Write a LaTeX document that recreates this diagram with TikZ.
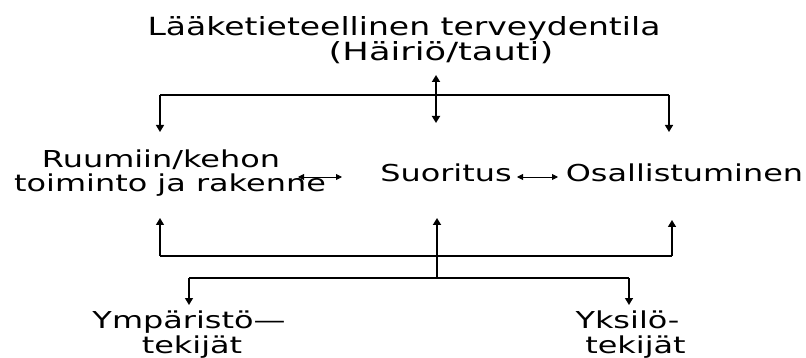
\documentclass[tikz,border=0pt]{standalone}
\usepackage{fontspec}
\setmainfont[FakeStretch=1.37]{DejaVu Sans}
\newfontfamily\titlefont[FakeStretch=1.32]{DejaVu Sans}
\newfontfamily\subtitlefont[FakeStretch=1.41]{DejaVu Sans}
\usetikzlibrary{arrows.meta}
\begin{document}
\begin{tikzpicture}[x=1pt,y=-1pt,
  conn/.style={line width=1.4pt},
  thick conn/.style={line width=1.9pt},
  tipend/.style={-{Triangle[length=7pt,width=8pt]}},
  bothtips/.style={{Triangle[length=7pt,width=8pt]}-{Triangle[length=7pt,width=8pt]}},
  smallboth/.style={line width=0.9pt,{Triangle[length=6pt,width=6pt]}-{Triangle[length=6pt,width=6pt]}},
  big/.style={anchor=base,inner sep=0pt,font=\titlefont\fontsize{25}{25}\selectfont},
  sub/.style={anchor=base,inner sep=0pt,font=\subtitlefont\fontsize{25}{25}\selectfont},
  lbl/.style={anchor=base,inner sep=0pt,font=\fontsize{23.3}{23.3}\selectfont}]
\useasboundingbox (0,0) rectangle (806,358);
% texts
\node[big] (t1) at (404,36) {Lääketieteellinen terveydentila};
\node[sub] (t2) at (441,61) {(Häiriö/tauti)};
\node[lbl] (r1) at (161,168) {Ruumiin/kehon};
\node[lbl] (r2) at (170,192) {toiminto ja rakenne};
\node[lbl] (su) at (446,182) {Suoritus};
\node[lbl] (os) at (684.5,182) {Osallistuminen};
\node[lbl] (y1) at (189,328) {Ympäristö—};
\node[lbl] (y2) at (192,353) {tekijät};
\node[lbl] (k1) at (627.5,328) {Yksilö-};
\node[lbl] (k2) at (635.5,353) {tekijät};
% coordinates
\coordinate (ctop) at (436,75);
\coordinate (cbot) at (436,123);
\coordinate (busL) at (160,95);
\coordinate (busR) at (669,95);
\coordinate (dropL) at (160,132);
\coordinate (dropR) at (669,132);
\coordinate (lbL) at (160,256);
\coordinate (lbR) at (672,256);
\coordinate (upL) at (160,218);
\coordinate (upR) at (672,220);
\coordinate (cup) at (437,218);
\coordinate (cjn) at (437,278);
\coordinate (b2L) at (189,278);
\coordinate (b2R) at (629,278);
\coordinate (dnL) at (189,305);
\coordinate (dnR) at (629,305);
\coordinate (a1L) at (298,177);
\coordinate (a1R) at (342,177);
\coordinate (a2L) at (517,177);
\coordinate (a2R) at (558,177);
% upper connectors
\draw[conn] (busL) -- (busR);
\draw[thick conn,bothtips] (ctop) -- (cbot);
\draw[conn,tipend] (busL) -- (dropL);
\draw[conn,tipend] (busR) -- (dropR);
% middle double arrows
\draw[smallboth] (a1L) -- (a1R);
\draw[smallboth] (a2L) -- (a2R);
% lower connectors
\draw[conn] (lbL) -- (lbR);
\draw[conn,tipend] (lbL) -- (upL);
\draw[conn,tipend] (lbR) -- (upR);
\draw[thick conn,tipend] (cjn) -- (cup);
\draw[conn] (b2L) -- (b2R);
\draw[conn,tipend] (b2L) -- (dnL);
\draw[conn,tipend] (b2R) -- (dnR);
\end{tikzpicture}
\end{document}
